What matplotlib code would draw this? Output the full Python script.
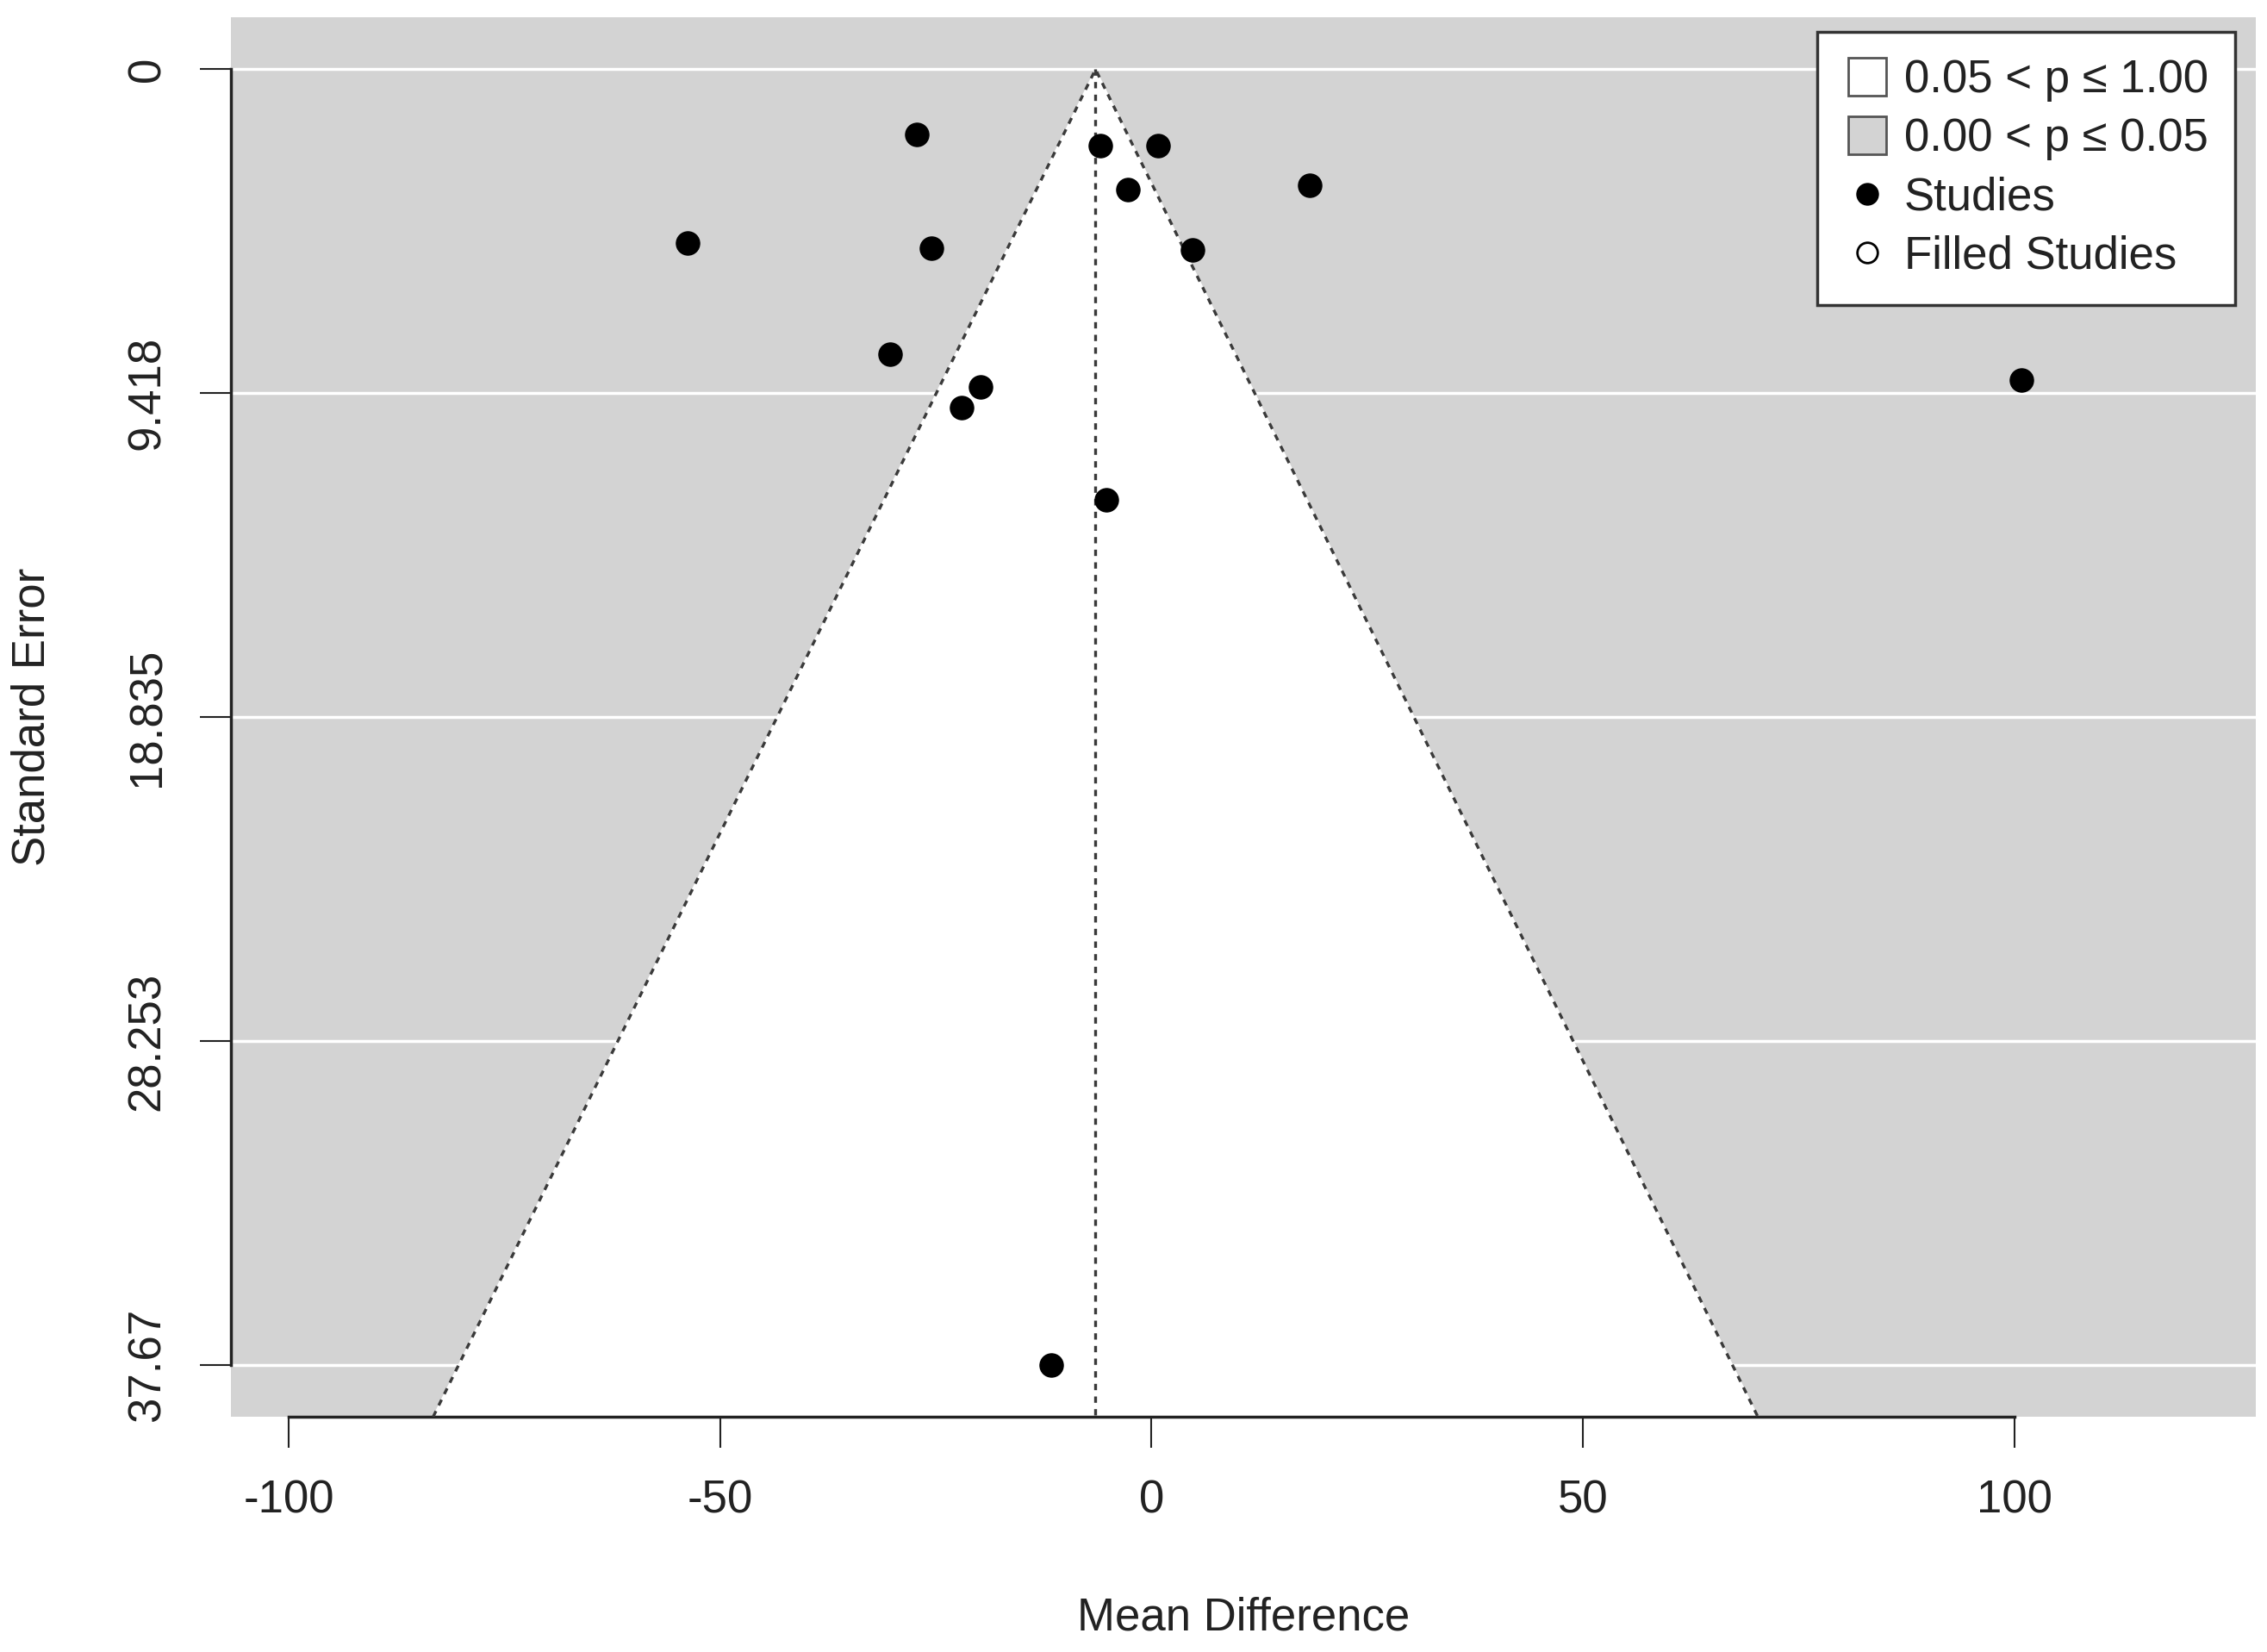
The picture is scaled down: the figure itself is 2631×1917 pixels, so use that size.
import numpy as np
import matplotlib.pyplot as plt
from matplotlib.lines import Line2D

plt.rcParams['font.family'] = ['Liberation Sans', 'DejaVu Sans']

# studies: mean difference and standard error
mean_diff = [-27.2, -5.9, 0.8, -2.7, 18.3, -53.8, -25.5, 4.7, -30.3, -19.8, -22.0, 100.8, -5.2, -11.6]
std_err = [1.89, 2.23, 2.23, 3.49, 3.36, 5.04, 5.21, 5.25, 8.27, 9.24, 9.83, 9.03, 12.52, 37.67]

center = -6.5
se_ticks = [0, 9.418, 18.835, 28.253, 37.67]
se_labels = ["0", "9.418", "18.835", "28.253", "37.67"]
md_ticks = [-100, -50, 0, 50, 100]

fig = plt.figure(figsize=(26.31, 19.17), dpi=100)
ax = fig.add_axes([0.102, 0.1424, 0.893, 0.847])

ylim_lo, ylim_hi = -1.507, 39.177
ax.set_xlim(-106.7, 128)
ax.set_ylim(ylim_hi, ylim_lo)
ax.set_facecolor('#d3d3d3')

# white grid lines at the y ticks
for t in se_ticks:
    ax.axhline(t, color='white', lw=2.5, zorder=1)

# funnel region (p > 0.05)
ybot = ylim_hi
tri_x = [center - 1.96 * ybot, center, center + 1.96 * ybot]
tri_y = [ybot, 0, ybot]
ax.fill(tri_x, tri_y, color='white', zorder=2)
ax.plot([tri_x[0], center, tri_x[2]], [ybot, 0, ybot], ls=(0, (2.2, 2.2)), color='#3a3a3a', lw=2.4, zorder=3)
ax.plot([center, center], [0, ybot], ls=(0, (2.2, 2.2)), color='#3a3a3a', lw=2.4, zorder=3)

ax.scatter(mean_diff, std_err, s=380, color='black', zorder=4)

# axes like R
for s in ['top', 'right']:
    ax.spines[s].set_visible(False)
ax.spines['left'].set_bounds(0, 37.67)
ax.spines['bottom'].set_bounds(-100, 100)
ax.spines['left'].set_linewidth(2.5)
ax.spines['bottom'].set_linewidth(2.5)
ax.spines['left'].set_color('#222222')
ax.spines['bottom'].set_color('#222222')

ax.set_xticks(md_ticks)
ax.set_xticklabels([str(t) for t in md_ticks])
ax.set_yticks(se_ticks)
ax.set_yticklabels(se_labels, rotation=90, va='center')
ax.tick_params(axis='both', length=26, width=1.5, labelsize=38, color='#222222', labelcolor='#222222')
ax.tick_params(axis='x', pad=26)
ax.tick_params(axis='y', pad=26)

ax.set_xlabel("Mean Difference", fontsize=38, color='#222222', labelpad=62)
ax.set_ylabel("Standard Error", fontsize=38, color='#222222', labelpad=60)

handles = [
    Line2D([], [], marker='s', ls='none', markersize=32, markerfacecolor='white', markeredgecolor='#555555', markeredgewidth=2),
    Line2D([], [], marker='s', ls='none', markersize=32, markerfacecolor='#d3d3d3', markeredgecolor='#555555', markeredgewidth=2),
    Line2D([], [], marker='o', ls='none', markersize=18, color='black'),
    Line2D([], [], marker='o', ls='none', markersize=17, markerfacecolor='white', markeredgecolor='black', markeredgewidth=2),
]
labels = ["0.05 < p ≤ 1.00", "0.00 < p ≤ 0.05", "Studies", "Filled Studies"]
leg = ax.legend(handles, labels, loc='upper right', bbox_to_anchor=(0.99, 0.99), fontsize=38,
                fancybox=False, framealpha=1, edgecolor='#333333', handletextpad=0.3,
                labelspacing=0.34, borderpad=0.6, handlelength=1.0, borderaxespad=0)
leg.get_frame().set_linewidth(2.5)
for t in leg.get_texts():
    t.set_color('#222222')

fig.savefig("out.png", dpi=100)
